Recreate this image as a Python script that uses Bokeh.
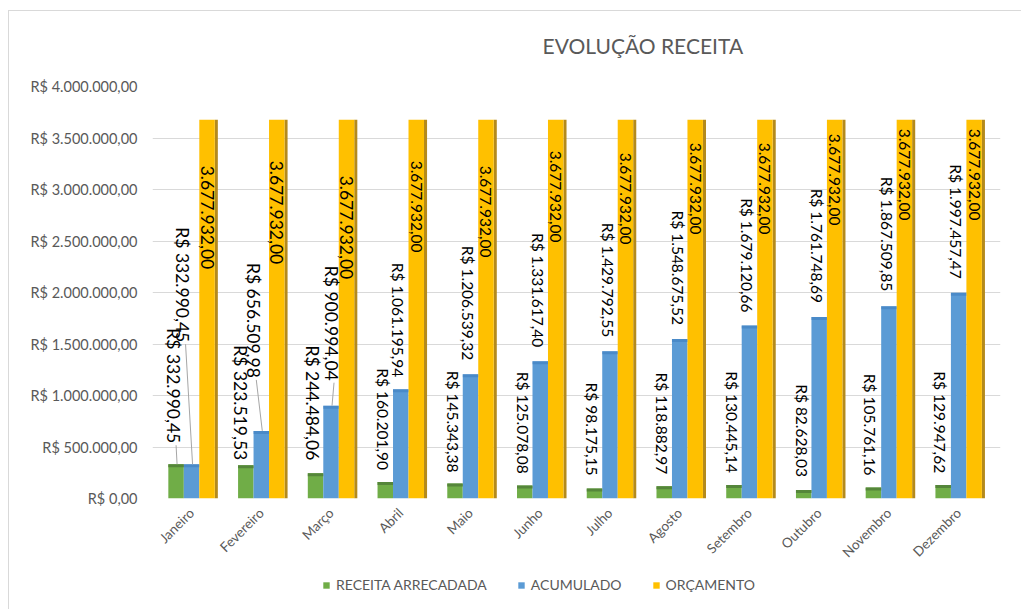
import numpy as np
from bokeh.plotting import figure
from bokeh.layouts import column
from bokeh.models import ColumnDataSource, Range1d, FixedTicker, Legend, LegendItem
from bokeh.core.properties import value
from bokeh.embed import file_html
from bokeh.resources import INLINE

# ---------------- data ----------------
months = ["Janeiro", "Fevereiro", "Março", "Abril", "Maio", "Junho",
          "Julho", "Agosto", "Setembro", "Outubro", "Novembro", "Dezembro"]
receita = [332990.45, 323519.53, 244484.06, 160201.90, 145343.38, 125078.08,
           98175.15, 118882.97, 130445.14, 82628.03, 105761.16, 129947.62]
acumulado = [332990.45, 656509.98, 900994.04, 1061195.94, 1206539.32, 1331617.40,
             1429792.55, 1548675.52, 1679120.66, 1761748.69, 1867509.85, 1997457.47]
orcamento = [3677932.00, 3677932.00, 3677932.00, 3677932.00, 3677932.00, 3677932.00,
             3677932.00, 3677932.00, 3677932.00, 3677932.00, 3677932.00, 3677932.00]
series_names = ["RECEITA ARRECADADA", "ACUMULADO", "ORÇAMENTO"]
y_ticks = [0, 500000, 1000000, 1500000, 2000000, 2500000, 3000000, 3500000, 4000000]
y_tick_labels = ["R$ 0,00", "R$ 500.000,00", "R$ 1.000.000,00", "R$ 1.500.000,00",
                 "R$ 2.000.000,00", "R$ 2.500.000,00", "R$ 3.000.000,00",
                 "R$ 3.500.000,00", "R$ 4.000.000,00"]
title_text = "EVOLUÇÃO RECEITA"

# ---------------- style ----------------
GREEN, BLUE, YELLOW = "#70ad47", "#5b9bd5", "#ffc000"
GREEN_TOP, BLUE_TOP = "#55863a", "#3f7fc0"
YELLOW_SIDE = "#b48a1c"
GRAY_TXT = "#595959"
FONT = "Lato"
W = 0.222                      # bar width in category units
lab_fs = ["17.5px"] * 3 + ["15.5px"] * 9
green_end = [-21, -5, -13, -12, -11, -12, -13, -12, -12, -13, -12, -12]
blue_end = [-122, -53, -25, -12, -14, -14, -14, -14, -13, -14, -15, -14]
orc_start = [46, 41, 56, 41, 46, 31, 33, 23, 23, 14, 9, 9]
green_dx = [-3, -5, -3, -2, -2, -2, -2, -2, -2, -2, -3, -3]
blue_dx = [-9, -8, 0, -3, -3, -2, -2, -2, -2, -2, -2, -3]

FIG_W, FIG_H, LEG_H = 1021, 570, 39
MB_L, MB_R, MB_T, MB_B = 152, 21, 86, 72
X0, X1 = -0.56, 11.6
Y0, Y1 = 0, 4000000
frame_w = FIG_W - MB_L - MB_R
frame_h = FIG_H - MB_T - MB_B
du_y = (Y1 - Y0) / frame_h
du_x = (X1 - X0) / frame_w


def brl(v, prefix="R$ "):
    s = f"{v:,.2f}".replace(",", "X").replace(".", ",").replace("X", ".")
    return prefix + s


idx = np.arange(len(months))
xg, xb, xy = idx - W, idx * 1.0, idx + W

p = figure(width=FIG_W, height=FIG_H, output_backend="svg", toolbar_location=None,
           x_range=Range1d(X0, X1), y_range=Range1d(Y0, Y1),
           min_border_left=MB_L, min_border_right=MB_R,
           min_border_top=MB_T, min_border_bottom=MB_B)
p.outline_line_color = None
p.border_fill_color = None
p.background_fill_color = None
p.xgrid.grid_line_color = None
p.ygrid.grid_line_color = "#d9d9d9"
p.ygrid.grid_line_width = 1

# title
p.title.text = title_text
p.title.align = "left"
p.title.offset = 390
p.title.text_font = FONT
p.title.text_font_size = "21px"
p.title.text_font_style = "normal"
p.title.text_color = GRAY_TXT
p.title.standoff = 58

# axes
p.yaxis.ticker = FixedTicker(ticks=y_ticks)
p.yaxis.major_label_overrides = {t: l for t, l in zip(y_ticks, y_tick_labels)}
p.xaxis.ticker = FixedTicker(ticks=list(idx))
p.xaxis.major_label_overrides = {int(i): m for i, m in zip(idx, months)}
p.xaxis.major_label_orientation = np.pi / 4
for ax in (p.xaxis, p.yaxis):
    ax.axis_line_color = None
    ax.major_tick_line_color = None
    ax.minor_tick_line_color = None
    ax.major_label_text_color = GRAY_TXT
    ax.major_label_text_font = FONT
p.yaxis.major_label_text_font_size = "14.5px"
p.yaxis.major_label_standoff = 9
p.xaxis.major_label_text_font_size = "13.5px"
p.xaxis.major_label_standoff = 6

# bars
src = ColumnDataSource(dict(xg=xg, xb=xb, xy=xy, xs=xy + W / 2 + 0.022,
                            receita=receita, acumulado=acumulado, orcamento=orcamento,
                            rcap=[v - 3 * du_y for v in receita],
                            acap=[v - 3 * du_y for v in acumulado]))
rg = p.vbar(x="xg", top="receita", width=W, source=src, fill_color=GREEN, line_color=None)
rb = p.vbar(x="xb", top="acumulado", width=W, source=src, fill_color=BLUE, line_color=None)
p.vbar(x="xs", top="orcamento", width=0.044, source=src, fill_color=YELLOW_SIDE, line_color=None)
ry = p.vbar(x="xy", top="orcamento", width=W, source=src, fill_color=YELLOW, line_color=None)
p.vbar(x="xg", top="receita", bottom="rcap", width=W, source=src, fill_color=GREEN_TOP, line_color=None)
p.vbar(x="xb", top="acumulado", bottom="acap", width=W, source=src, fill_color=BLUE_TOP,
       fill_alpha=0.6, line_color=None)

# leader lines
lx0, ly0, lx1, ly1 = [], [], [], []
for xs_, vals, ends, dxs in ((xg, receita, green_end, green_dx), (xb, acumulado, blue_end, blue_dx)):
    for i in range(len(months)):
        if abs(ends[i]) > 15:
            lx0.append(xs_[i] + dxs[i] * du_x + 3 * du_x)
            ly0.append(vals[i] - (ends[i] + 2) * du_y)
            lx1.append(xs_[i] + 1 * du_x)
            ly1.append(vals[i])
p.segment(x0=lx0, y0=ly0, x1=lx1, y1=ly1, line_color="#a6a6a6", line_width=1)

# data labels
lab = ColumnDataSource(dict(
    xg=xg, xb=xb, xy=xy, receita=receita, acumulado=acumulado, orcamento=orcamento,
    tg=[brl(v) for v in receita], tb=[brl(v) for v in acumulado],
    ty=[brl(v, "") for v in orcamento],
    fs=lab_fs, ge=green_end, be=blue_end, os=orc_start,
    gdx=green_dx, bdx=blue_dx))
common = dict(source=lab, angle=-np.pi / 2, text_font=value(FONT), text_font_size="fs",
              text_color="#000000", text_baseline="middle")
p.text(x="xg", y="receita", text="tg", text_align="right", x_offset="gdx", y_offset="ge", **common)
p.text(x="xb", y="acumulado", text="tb", text_align="right", x_offset="bdx", y_offset="be", **common)
p.text(x="xy", y="orcamento", text="ty", text_align="left", y_offset="os", **common)

# legend (separate strip below the chart; its frame aligns with the chart frame)
leg = figure(width=FIG_W, height=LEG_H, output_backend="svg", toolbar_location=None,
             x_range=Range1d(0, 1), y_range=Range1d(0, 1),
             x_axis_location=None, y_axis_location=None,
             min_border_left=0, min_border_right=0, min_border_top=0, min_border_bottom=0)
leg.outline_line_color = None
leg.border_fill_color = None
leg.background_fill_color = None
leg.grid.grid_line_color = None
lr = [leg.vbar(x=[0.5], top=[0], bottom=[0], width=0.01, fill_color=c, line_color=None)
      for c in (GREEN, BLUE, YELLOW)]
legend = Legend(items=[LegendItem(label=n, renderers=[r]) for n, r in zip(series_names, lr)],
                orientation="horizontal", location=(170, 16),
                label_text_font=FONT, label_text_font_size="14px",
                label_text_color=GRAY_TXT, glyph_width=8, glyph_height=8,
                label_standoff=6, spacing=30, padding=0, margin=0,
                border_line_color=None, background_fill_alpha=0)
leg.add_layout(legend, "center")

layout = column(p, leg, spacing=0,
                styles={"background-image": "linear-gradient(#d9d9d9, #d9d9d9), linear-gradient(#d9d9d9, #d9d9d9)",
                        "background-size": "100% 1px, 1px 100%",
                        "background-position": "8px 10px, 8px 10px",
                        "background-repeat": "no-repeat"})

open("out.html", "w").write(file_html(layout, INLINE))
